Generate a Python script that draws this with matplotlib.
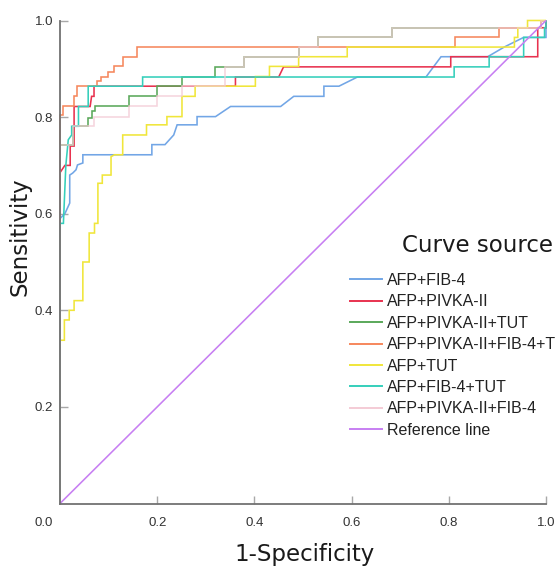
import matplotlib
matplotlib.use("Agg")
import matplotlib.pyplot as plt
from matplotlib.lines import Line2D

# ---------------- data ----------------
series_names = ["AFP+FIB-4", "AFP+PIVKA-II", "AFP+PIVKA-II+TUT",
                "AFP+PIVKA-II+FIB-4+TUT", "AFP+TUT", "AFP+FIB-4+TUT",
                "AFP+PIVKA-II+FIB-4", "Reference line"]
series_colors = ["#72a6e6", "#e8324f", "#5aa85a", "#f6875c", "#f0e63a",
                 "#35cfbb", "#f4cbd5", "#c77ff2"]

fpr_afp_fib4 = [0, 0, 0.01, 0.02, 0.02, 0.026, 0.033, 0.036, 0.047, 0.047, 0.189, 0.189,
                0.216, 0.234, 0.241, 0.282, 0.282, 0.32, 0.351, 0.454, 0.481, 0.543, 0.543,
                0.574, 0.612, 0.753, 0.784, 0.88, 0.914, 0.954, 1.0, 1.0]
tpr_afp_fib4 = [0, 0.59, 0.60, 0.622, 0.68, 0.684, 0.691, 0.701, 0.705, 0.722, 0.722, 0.743,
                0.743, 0.763, 0.784, 0.784, 0.801, 0.801, 0.822, 0.822, 0.843, 0.843, 0.864,
                0.864, 0.883, 0.883, 0.925, 0.925, 0.945, 0.965, 0.965, 1.0]

fpr_afp_pivka = [0, 0, 0.01, 0.021, 0.021, 0.029, 0.029, 0.062, 0.065, 0.07, 0.07, 0.361,
                 0.361, 0.45, 0.46, 0.804, 0.804, 0.983, 0.983, 1.0, 1.0]
tpr_afp_pivka = [0, 0.685, 0.70, 0.70, 0.74, 0.74, 0.822, 0.822, 0.843, 0.843, 0.864, 0.864,
                 0.883, 0.883, 0.904, 0.904, 0.925, 0.925, 0.985, 0.985, 1.0]

fpr_afp_pivka_tut = [0, 0, 0.027, 0.027, 0.058, 0.058, 0.065, 0.065, 0.072, 0.072, 0.141,
                     0.141, 0.199, 0.199, 0.251, 0.251, 0.318, 0.318, 0.378, 0.378, 0.491,
                     0.491, 0.531, 0.531, 0.684, 0.684, 0.99, 0.99, 1.0]
tpr_afp_pivka_tut = [0, 0.743, 0.743, 0.781, 0.781, 0.798, 0.798, 0.812, 0.812, 0.822, 0.822,
                     0.843, 0.843, 0.864, 0.864, 0.883, 0.883, 0.904, 0.904, 0.925, 0.925,
                     0.945, 0.945, 0.965, 0.965, 0.985, 0.985, 1.0, 1.0]

fpr_all4 = [0, 0, 0.007, 0.007, 0.029, 0.029, 0.036, 0.036, 0.076, 0.076, 0.084, 0.084,
            0.099, 0.099, 0.112, 0.112, 0.13, 0.13, 0.159, 0.159, 0.813, 0.813, 0.904,
            0.904, 0.99, 0.99, 1.0]
tpr_all4 = [0, 0.804, 0.804, 0.824, 0.824, 0.843, 0.843, 0.864, 0.864, 0.874, 0.874, 0.884,
            0.884, 0.894, 0.894, 0.905, 0.905, 0.925, 0.925, 0.945, 0.945, 0.965, 0.965,
            0.985, 0.985, 1.0, 1.0]

fpr_afp_tut = [0, 0, 0.009, 0.009, 0.019, 0.019, 0.029, 0.029, 0.047, 0.047, 0.06, 0.06,
               0.071, 0.071, 0.078, 0.078, 0.087, 0.087, 0.105, 0.105, 0.112, 0.129, 0.129,
               0.178, 0.178, 0.22, 0.22, 0.251, 0.251, 0.278, 0.278, 0.402, 0.402, 0.431,
               0.431, 0.491, 0.491, 0.591, 0.591, 0.935, 0.935, 0.942, 0.942, 0.962, 0.962,
               1.0]
tpr_afp_tut = [0, 0.338, 0.338, 0.38, 0.38, 0.40, 0.40, 0.42, 0.42, 0.50, 0.50, 0.56,
               0.56, 0.58, 0.58, 0.663, 0.663, 0.68, 0.68, 0.718, 0.722, 0.722, 0.763,
               0.763, 0.784, 0.784, 0.801, 0.801, 0.843, 0.843, 0.864, 0.864, 0.884, 0.884,
               0.905, 0.905, 0.925, 0.925, 0.945, 0.945, 0.965, 0.965, 0.985, 0.985, 1.0,
               1.0]

fpr_afp_fib4_tut = [0, 0, 0.007, 0.012, 0.017, 0.024, 0.024, 0.038, 0.038, 0.058, 0.058,
                    0.17, 0.17, 0.811, 0.811, 0.883, 0.883, 0.954, 0.954, 0.997, 0.997,
                    1.0, 1.0]
tpr_afp_fib4_tut = [0, 0.58, 0.58, 0.70, 0.753, 0.763, 0.781, 0.781, 0.822, 0.822, 0.864,
                    0.864, 0.883, 0.883, 0.904, 0.904, 0.925, 0.925, 0.965, 0.965, 0.985,
                    0.985, 1.0]

fpr_afp_pivka_fib4 = [0, 0, 0.027, 0.027, 0.069, 0.069, 0.141, 0.141, 0.199, 0.199, 0.251,
                      0.251, 0.34, 0.34, 0.378, 0.378, 0.491, 0.491, 0.531, 0.531, 0.684,
                      0.684, 0.99, 0.99, 1.0]
tpr_afp_pivka_fib4 = [0, 0.743, 0.743, 0.781, 0.781, 0.801, 0.801, 0.822, 0.822, 0.843,
                      0.843, 0.864, 0.864, 0.904, 0.904, 0.925, 0.925, 0.945, 0.945, 0.965,
                      0.965, 0.985, 0.985, 1.0, 1.0]

fpr_reference = [0, 1]
tpr_reference = [0, 1]

tick_values = [0.2, 0.4, 0.6, 0.8, 1.0]
tick_labels = ["0.2", "0.4", "0.6", "0.8", "1.0"]

curves = [
    (fpr_afp_fib4, tpr_afp_fib4),
    (fpr_afp_pivka, tpr_afp_pivka),
    (fpr_afp_pivka_tut, tpr_afp_pivka_tut),
    (fpr_all4, tpr_all4),
    (fpr_afp_tut, tpr_afp_tut),
    (fpr_afp_fib4_tut, tpr_afp_fib4_tut),
    (fpr_afp_pivka_fib4, tpr_afp_pivka_fib4),
    (fpr_reference, tpr_reference),
]

# ---------------- figure ----------------
W, H = 556, 572
fig = plt.figure(figsize=(W / 100, H / 100), dpi=100)
fig.patch.set_facecolor("white")
ax = fig.add_axes([60 / W, 1 - 503.5 / H, 486 / W, 483 / H])
ax.set_facecolor("none")

LW = 1.15
handles = []
for (fx, ty), name, col in zip(curves, series_names, series_colors):
    alpha = 0.8 if name == "AFP+PIVKA-II+FIB-4" else 1.0
    ax.plot(fx, ty, color=col, lw=LW, alpha=alpha, solid_joinstyle="miter",
            solid_capstyle="butt", clip_on=False)
    handles.append(Line2D([], [], color=col, lw=1.4))

ax.set_xlim(0, 1)
ax.set_ylim(0, 1)

for s in ("top", "right"):
    ax.spines[s].set_visible(False)
for s in ("left", "bottom"):
    ax.spines[s].set_color("#727272")
    ax.spines[s].set_linewidth(1.3)
    ax.spines[s].set_zorder(5)

tick_font = dict(family="Liberation Sans", size=9.5)
ax.set_xticks(tick_values)
ax.set_xticklabels(tick_labels, fontdict=tick_font, color="#333333")
ax.set_yticks(tick_values)
ax.set_yticklabels(tick_labels, fontdict=tick_font, color="#333333")
ax.tick_params(axis="both", direction="in", length=5.8, width=1.0, color="#a8a8a8")
ax.tick_params(axis="x", pad=9.5)
ax.tick_params(axis="y", pad=5)
ax.annotate("0.0", xy=(0, 0), xycoords="axes fraction", xytext=(-5, -9.5),
            textcoords="offset points", ha="right", va="top",
            family="Liberation Sans", fontsize=9.5, color="#333333")

fig.text(20 / W, 1 - 237 / H, "Sensitivity", rotation=90, ha="center", va="center",
         fontsize=16.5, color="#1a1a1a")
fig.text(305 / W, 1 - 555 / H, "1-Specificity", ha="center", va="center",
         fontsize=16.5, color="#1a1a1a")

fig.text(401.7 / W, 1 - 246 / H, "Curve source", ha="left", va="center",
         fontsize=16.5, color="#1a1a1a")
fig.legend(handles, series_names, loc="upper left",
           bbox_to_anchor=(350 / W, 1 - 273 / H), bbox_transform=fig.transFigure,
           frameon=False, prop=dict(family="Liberation Sans", size=11.5),
           handlelength=2.0, handletextpad=0.3, labelspacing=0.4,
           borderpad=0, borderaxespad=0, labelcolor="#222222")

fig.savefig("out.png", dpi=100)
